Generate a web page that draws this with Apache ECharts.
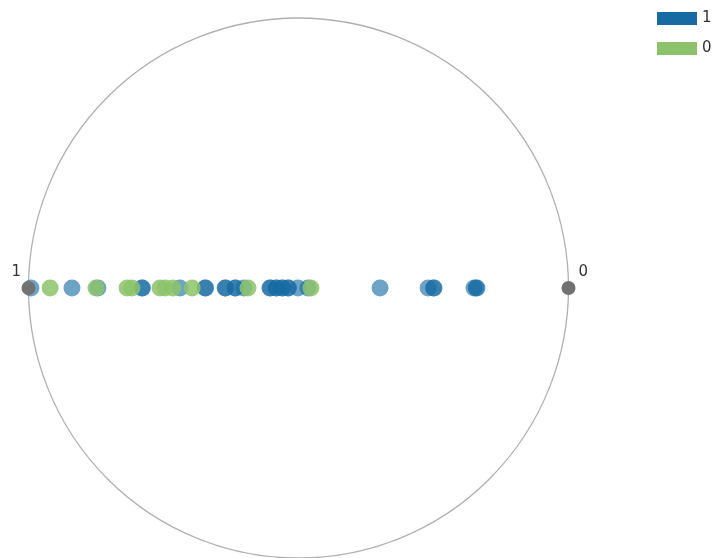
<!DOCTYPE html>
<html>
<head>
<meta charset="utf-8">
<script src="https://cdn.jsdelivr.net/npm/echarts@6/dist/echarts.min.js"></script>
<style>
  html, body { margin: 0; padding: 0; background: #fff; }
  #chart { width: 714px; height: 558px; }
</style>
</head>
<body>
<div id="chart"></div>
<script>
// RadViz projection with two anchors: feature "1" sits on the left of the
// unit circle, feature "0" on the right. Each sample is stored as its
// projected horizontal position in [-1, 1] (negative = towards anchor "1").
const anchorNames = ['1', '0'];
const anchorPositions = [-1, 1];

const classNames = ['1', '0'];
const class1Positions = [
  -0.991, -0.839, -0.743, -0.580, -0.578, -0.439, -0.346, -0.344,
  -0.272, -0.270, -0.235, -0.233, -0.202, -0.106, -0.104, -0.083, -0.081,
  -0.061, -0.059, -0.039, -0.037, -0.002, 0.035, 0.302, 0.480, 0.502,
  0.500, 0.650, 0.661, 0.658
];
const class0Positions = [
  -0.920, -0.750, -0.635, -0.617, -0.513, -0.494, -0.465, -0.394, -0.187,
  0.046
];

const classColors = ['#166ba3', '#8cc36a'];
const classOpacity = [0.62, 0.85];

// Polar coordinates: radius = |position|, angle 180 on the left, 0 on the right
function toPolar(p) {
  return [Math.abs(p), p < 0 ? 180 : 0];
}

const chart = echarts.init(document.getElementById('chart'), null, { renderer: 'canvas' });

const classSeries = [class1Positions, class0Positions].map((vals, i) => ({
  name: classNames[i],
  type: 'scatter',
  coordinateSystem: 'polar',
  symbol: 'circle',
  symbolSize: 17,
  itemStyle: { color: classColors[i], opacity: classOpacity[i] },
  emphasis: { disabled: true },
  data: vals.map(toPolar),
  z: 2 + i
}));

chart.setOption({
  animation: false,
  backgroundColor: '#ffffff',
  polar: { center: [298.5, 288], radius: 270 },
  angleAxis: {
    type: 'value',
    min: 0,
    max: 360,
    startAngle: 0,
    axisLine: { show: true, lineStyle: { color: '#b0b0b0', width: 1.3 } },
    axisTick: { show: false },
    axisLabel: { show: false },
    splitLine: { show: false }
  },
  radiusAxis: {
    type: 'value',
    min: 0,
    max: 1,
    axisLine: { show: false },
    axisTick: { show: false },
    axisLabel: { show: false },
    splitLine: { show: false }
  },
  legend: {
    orient: 'vertical',
    left: 652,
    top: 6,
    icon: 'rect',
    itemWidth: 40,
    itemHeight: 13,
    itemGap: 15,
    textStyle: { fontFamily: 'DejaVu Sans', fontSize: 15, color: '#333' },
    data: classNames.map((n, i) => ({ name: n, itemStyle: { color: classColors[i], opacity: 1 } }))
  },
  series: [
    ...classSeries,
    {
      name: 'anchors',
      type: 'scatter',
      coordinateSystem: 'polar',
      symbol: 'circle',
      symbolSize: 14,
      itemStyle: { color: '#717171', opacity: 1 },
      emphasis: { disabled: true },
      z: 5,
      data: anchorPositions.map((p, i) => ({
        value: toPolar(p),
        label: {
          show: true,
          formatter: anchorNames[i],
          position: p < 0 ? [-10, -16] : [17, -16],
          fontFamily: 'DejaVu Sans',
          fontSize: 15,
          color: '#333'
        }
      }))
    }
  ]
});
</script>
</body>
</html>
